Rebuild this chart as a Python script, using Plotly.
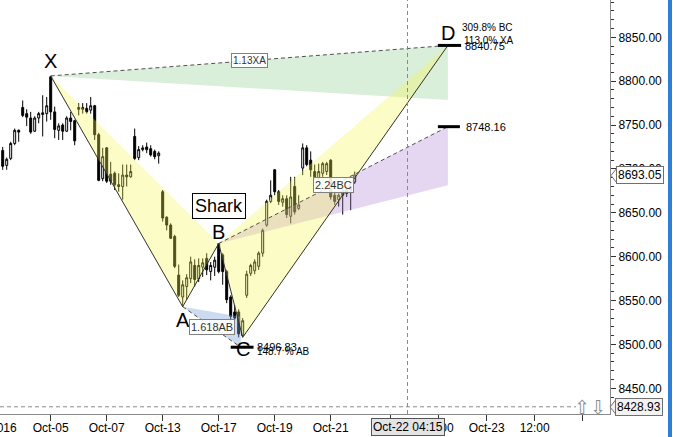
import plotly.graph_objects as go

# ---------------- data ----------------
candle_idx = list(range(-12, 77))
opens = [8721, 8704, 8712, 8729, 8744, 8770, 8763, 8758, 8743, 8758, 8762, 8763,
         8805, 8765, 8744, 8750, 8743, 8758, 8755, 8770, 8768, 8769, 8767, 8772,
         8739, 8689, 8724, 8694, 8695, 8682, 8680, 8693, 8691, 8737, 8713, 8722,
         8725, 8723, 8720, 8715, 8674, 8645, 8636, 8623, 8579, 8554, 8566, 8575,
         8590, 8575, 8588, 8598, 8583, 8588, 8615, 8602, 8583, 8554, 8537, 8537,
         8510, 8556, 8581, 8584, 8589, 8604, 8636, 8663, 8699, 8674, 8662, 8666,
         8646, 8680, 8655, 8701, 8724, 8710, 8697, 8689, 8695, 8697, 8710, 8670,
         8665, 8675, 8672, 8676, 8685]
highs = [8725, 8713, 8731, 8746, 8745, 8778, 8768, 8765, 8760, 8765, 8784, 8782,
         8806, 8771, 8752, 8752, 8760, 8765, 8756, 8775, 8775, 8775, 8782, 8773,
         8741, 8724, 8725, 8708, 8697, 8695, 8705, 8705, 8705, 8746, 8726, 8727,
         8730, 8727, 8722, 8720, 8676, 8646, 8638, 8625, 8591, 8573, 8580, 8600,
         8597, 8598, 8598, 8604, 8594, 8600, 8615, 8604, 8585, 8556, 8545, 8540,
         8530, 8584, 8592, 8597, 8606, 8632, 8665, 8687, 8700, 8676, 8670, 8670,
         8691, 8691, 8670, 8729, 8727, 8720, 8705, 8706, 8708, 8708, 8711, 8674,
         8672, 8678, 8680, 8681, 8697]
lows = [8699, 8699, 8710, 8727, 8731, 8759, 8749, 8740, 8742, 8752, 8737, 8754,
        8756, 8735, 8733, 8733, 8742, 8744, 8727, 8761, 8763, 8763, 8763, 8733,
        8686, 8686, 8684, 8682, 8676, 8674, 8665, 8680, 8690, 8710, 8710, 8720,
        8718, 8714, 8711, 8706, 8640, 8630, 8620, 8587, 8554, 8543, 8551, 8570,
        8566, 8571, 8577, 8579, 8573, 8578, 8581, 8568, 8547, 8526, 8528, 8508,
        8509, 8553, 8578, 8580, 8585, 8600, 8634, 8661, 8670, 8659, 8657, 8644,
        8638, 8648, 8653, 8693, 8703, 8691, 8687, 8687, 8691, 8693, 8665, 8659,
        8657, 8648, 8668, 8653, 8683]
closes = [8703, 8711, 8729, 8744, 8742, 8761, 8759, 8742, 8758, 8763, 8764, 8772,
          8765, 8745, 8749, 8743, 8758, 8754, 8732, 8768, 8770, 8765, 8772, 8739,
          8687, 8714, 8686, 8686, 8682, 8680, 8693, 8691, 8697, 8712, 8722, 8724,
          8722, 8716, 8714, 8718, 8644, 8636, 8621, 8589, 8556, 8568, 8576, 8594,
          8574, 8590, 8593, 8585, 8590, 8596, 8583, 8583, 8551, 8532, 8530, 8512,
          8527, 8580, 8590, 8594, 8604, 8630, 8663, 8670, 8674, 8663, 8666, 8648,
          8668, 8651, 8659, 8724, 8705, 8699, 8691, 8697, 8706, 8706, 8668, 8663,
          8670, 8670, 8676, 8678, 8693.05]

# harmonic pattern points
pt_names = ["X", "A", "B", "C", "D"]
pt_x = [0, 33, 42, 48, 99.3]
pt_y = [8806, 8543, 8615, 8508, 8840.75]

d_level = 8840.75
bc_level = 8748.16
c_level = 8496.83
green_low = 8778.5
purple_low = 8681.5
blue_top = 8531.6
c_proj_x = 47.5

tick_vals = [0, 14, 28, 42, 56, 70, 85, 97, 109, 121, 133]
tick_text = ["Oct-05", "Oct-07", "Oct-13", "Oct-17", "Oct-19", "Oct-21",
             "Oct-22", "12:00", "Oct-23", "12:00", ""]

last_price = 8693.05
cross_price = 8428.93
cross_x = 89.2
cross_label = "Oct-22 04:15"

# ---------------- geometry ----------------
W, H = 673, 437
PW, PH = 610, 414  # plot area in px
X_RANGE = [-12.675, 139.825]
Y_RANGE = [8420.71, 8892.51]


def px(p):
    return p / PW


def py(p):
    return (PH - p) / PH


FONT = "Arial, Liberation Sans, sans-serif"

fig = go.Figure()

fig.add_trace(go.Candlestick(
    x=candle_idx, open=opens, high=highs, low=lows, close=closes,
    increasing=dict(line=dict(color="#000000", width=1), fillcolor="#ffffff"),
    decreasing=dict(line=dict(color="#000000", width=1), fillcolor="#000000"),
    whiskerwidth=0, showlegend=False, hoverinfo="skip"))

X, A, B, C, D = [(pt_x[i], pt_y[i]) for i in range(5)]


def poly(xs, ys, color):
    fig.add_trace(go.Scatter(x=xs + [xs[0]], y=ys + [ys[0]], mode="lines",
                             fill="toself", fillcolor=color,
                             line=dict(width=0), showlegend=False,
                             hoverinfo="skip"))


# fills
poly([X[0], D[0], D[0]], [X[1], d_level, green_low], "rgba(150,210,150,0.36)")
poly([B[0], D[0], D[0]], [B[1], bc_level, purple_low], "rgba(170,120,210,0.30)")
poly([A[0], c_proj_x, c_proj_x], [A[1], blue_top, c_level], "rgba(120,160,215,0.38)")
poly([X[0], A[0], B[0]], [X[1], A[1], B[1]], "rgba(245,245,80,0.32)")
poly([B[0], C[0], D[0]], [B[1], C[1], D[1]], "rgba(245,245,80,0.32)")

# solid pattern legs
fig.add_trace(go.Scatter(x=pt_x, y=pt_y, mode="lines",
                         line=dict(color="#303030", width=1),
                         showlegend=False, hoverinfo="skip"))


def dashed(x0, y0, x1, y1):
    fig.add_trace(go.Scatter(x=[x0, x1], y=[y0, y1], mode="lines",
                             line=dict(color="#505050", width=1, dash="4px,3px"),
                             showlegend=False, hoverinfo="skip"))


dashed(X[0], X[1], D[0], d_level)
dashed(B[0], B[1], D[0], bc_level)
dashed(A[0], A[1], c_proj_x, c_level)


def hbar(x0, x1, y):
    fig.add_trace(go.Scatter(x=[x0, x1], y=[y, y], mode="lines",
                             line=dict(color="#000000", width=3),
                             showlegend=False, hoverinfo="skip"))


hbar(96.8, 102.6, d_level)
hbar(96.8, 102.3, bc_level)
hbar(45.0, 50.7, c_level)

ann = []
# point letters
shifts = {"X": 15, "A": -13, "B": 12, "C": -12, "D": 12.5}
for n, x, y in zip(pt_names, pt_x, pt_y):
    ann.append(dict(x=x, y=y, xref="x", yref="y", text=n, showarrow=False,
                    yshift=shifts[n], font=dict(family=FONT, size=20, color="#000")))

ann.append(dict(x=B[0], y=B[1], xref="x", yref="y", text="Shark", showarrow=False,
                yshift=38, font=dict(family=FONT, size=18, color="#000"),
                bgcolor="#ffffff", bordercolor="#000000", borderwidth=1, borderpad=2))


def ratio_box(x, y, text, size=11):
    ann.append(dict(x=x, y=y, xref="x", yref="y", text=text, showarrow=False,
                    font=dict(family=FONT, size=size, color="#333"),
                    bgcolor="rgba(255,255,255,0.85)", bordercolor="#808080",
                    borderwidth=1, borderpad=1))


ratio_box((X[0] + D[0]) / 2, (X[1] + d_level) / 2, "1.13XA", 10)
ratio_box((B[0] + D[0]) / 2, (B[1] + bc_level) / 2, "2.24BC", 11)
ratio_box((A[0] + c_proj_x) / 2, (A[1] + c_level) / 2, "1.618AB", 11)


def small(x, y, text, size, xs, ys):
    ann.append(dict(x=x, y=y, xref="x", yref="y", text=text, showarrow=False,
                    xanchor="left", xshift=xs, yshift=ys,
                    font=dict(family=FONT, size=size, color="#000")))


small(D[0], d_level, "309.8% BC", 10, 12, 17.5)
small(D[0], d_level, "113.0% XA", 10, 14, 5)
small(D[0], d_level, "8840.75", 11, 15, -0.5)
small(D[0], bc_level, "8748.16", 11, 16, -0.5)
small(50.7, c_level, "8496.83", 11, 1, 0)
small(50.7, c_level, "148.7 % AB", 10, 1, -4)

# right price badges
ann.append(dict(x=px(616), y=last_price, xref="paper", yref="y", text=f"{last_price:.2f}",
                showarrow=False, xanchor="left", yanchor="middle",
                font=dict(family=FONT, size=12, color="#000"),
                bgcolor="#ffffff", bordercolor="#707070", borderwidth=1, borderpad=1))
ann.append(dict(x=px(615), y=cross_price, xref="paper", yref="y", text=f"{cross_price:.2f}",
                showarrow=False, xanchor="left", yanchor="middle",
                font=dict(family=FONT, size=12, color="#000"),
                bgcolor="#f2f2f2", bordercolor="#707070", borderwidth=1, borderpad=1))
ann.append(dict(x=px(590), y=cross_price, xref="paper", yref="y", text="⇧⇩",
                showarrow=False, xanchor="center", yanchor="middle",
                font=dict(family="DejaVu Sans", size=19, color="#8c8c8c")))
# crosshair time label
ann.append(dict(x=cross_x, y=py(427.5), xref="x", yref="paper", text=cross_label,
                showarrow=False, xanchor="center", yanchor="middle",
                font=dict(family=FONT, size=12, color="#000"),
                bgcolor="#e4e4e4", bordercolor="#555555", borderwidth=1, borderpad=1))
# partially hidden year label at left edge
ann.append(dict(x=px(19), y=py(428), xref="paper", yref="paper", text="2016",
                showarrow=False, xanchor="right", yanchor="middle",
                font=dict(family=FONT, size=12, color="#000")))

shapes = [
    # crosshair lines
    dict(type="line", xref="x", yref="paper", x0=cross_x, x1=cross_x, y0=0, y1=1,
         line=dict(color="#8a8a8a", width=1, dash="4px,3px"), layer="above"),
    dict(type="line", xref="paper", yref="y", x0=0, x1=px(576), y0=cross_price, y1=cross_price,
         line=dict(color="#8a8a8a", width=1, dash="4px,3px"), layer="above"),
    # badge pointers
    dict(type="path", xref="paper", yref="paper",
         path=f"M {px(617)},{py(168)} L {px(611)},{py(175.5)} L {px(617)},{py(183)} Z",
         fillcolor="#ffffff", line=dict(color="#707070", width=1), layer="above"),
    dict(type="path", xref="paper", yref="paper",
         path=f"M {px(616)},{py(399.5)} L {px(610)},{py(407)} L {px(616)},{py(414.5)} Z",
         fillcolor="#f2f2f2", line=dict(color="#707070", width=1), layer="above"),
    # blue frame bar on the right edge
    dict(type="rect", xref="paper", yref="paper", x0=px(668), x1=px(672), y0=py(437), y1=py(0),
         fillcolor="#2f7fd8", line=dict(width=0), layer="above"),
]

fig.update_layout(
    width=W, height=H,
    margin=dict(l=0, r=W - PW, t=0, b=H - PH),
    paper_bgcolor="#ffffff", plot_bgcolor="#ffffff",
    showlegend=False,
    annotations=ann, shapes=shapes,
    font=dict(family=FONT, size=12, color="#000"),
    xaxis=dict(range=X_RANGE, rangeslider=dict(visible=False), showgrid=False,
               zeroline=False, tickmode="array", tickvals=tick_vals, ticktext=tick_text,
               ticks="outside", ticklen=6, tickcolor="#333", showline=True,
               ticklabelstandoff=-3,
               linecolor="#8a8a8a", linewidth=1, tickfont=dict(family=FONT, size=12, color="#000")),
    yaxis=dict(range=Y_RANGE, side="right", showgrid=False, zeroline=False,
               tick0=8450, dtick=50, tickformat=".2f", ticks="outside", ticklen=5,
               tickcolor="#333", showline=True, linecolor="#8a8a8a", linewidth=1,
               minor=dict(dtick=10, ticks="outside", ticklen=3, tickcolor="#333", showgrid=False),
               tickfont=dict(family=FONT, size=12, color="#000")),
)

fig.write_html("out.html", config={"displayModeBar": False},
               post_script="document.body.style.margin='0';document.body.style.padding='0';")
